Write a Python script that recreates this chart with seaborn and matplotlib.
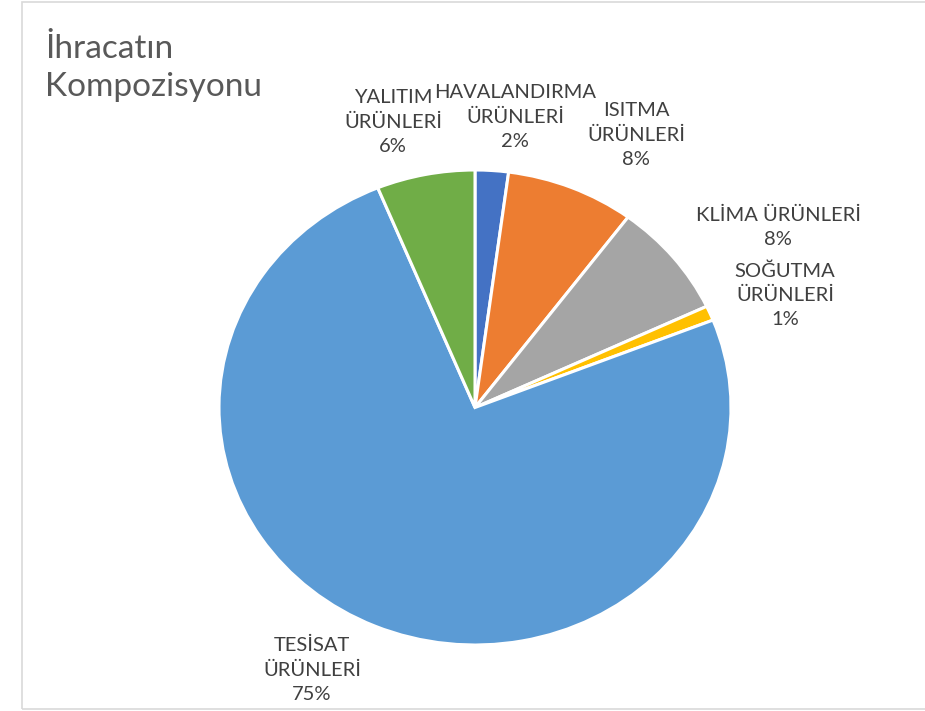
import matplotlib
matplotlib.use("Agg")
import matplotlib.pyplot as plt
import seaborn as sns
from matplotlib.patches import Rectangle

# slice data, clockwise from the top
categories = ["HAVALANDIRMA\nÜRÜNLERİ", "ISITMA\nÜRÜNLERİ", "KLİMA ÜRÜNLERİ",
              "SOĞUTMA\nÜRÜNLERİ", "TESİSAT\nÜRÜNLERİ", "YALITIM\nÜRÜNLERİ"]
shares = [2.1, 8.1, 7.8, 1.0, 74.8, 6.2]
pct_labels = ["2%", "8%", "8%", "1%", "75%", "6%"]
colors = ["#4472C4", "#ED7D31", "#A5A5A5", "#FFC000", "#5B9BD5", "#70AD47"]

# label centres in figure pixels (x from left, y from top)
label_pos = [(515, 117), (636, 135), (778, 227), (785, 295), (312, 670), (393, 122)]

W, H = 925, 711
sns.set_theme(style="white")
plt.rcParams["font.family"] = ["Lato", "DejaVu Sans"]

fig = plt.figure(figsize=(W / 100, H / 100), dpi=100)
fig.patch.set_facecolor("white")

# chart-area border (right edge falls outside the image)
fig.patches.append(Rectangle((22 / W, 2 / H), 1.2, (709 - 2) / H, transform=fig.transFigure,
                             fill=False, edgecolor="#D9D9D9", linewidth=1.2))

# pie axes: reference pie is slightly wider than tall
cx, cy, rx, ry = 475, 407.5, 256, 237.5
ax = fig.add_axes([(cx - rx) / W, (H - cy - ry) / H, 2 * rx / W, 2 * ry / H])
wedges, _ = ax.pie(shares, colors=colors, startangle=90, counterclock=False,
                   wedgeprops=dict(edgecolor="white", linewidth=2.2))
ax.set_aspect("auto")
ax.set_xlim(-1, 1)
ax.set_ylim(-1, 1)
for w in wedges:
    w.set_clip_on(False)
ax.axis("off")

for cat, pct, (px, py) in zip(categories, pct_labels, label_pos):
    fig.text(px / W, 1 - py / H, cat + "\n" + pct, ha="center", va="center",
             fontsize=14.5, color="#404040", linespacing=1.5)

fig.text(45 / W, 1 - 68 / H, "İhracatın\nKompozisyonu", ha="left", va="center",
         fontsize=24, color="#595959", linespacing=1.35)

fig.savefig("out.png", dpi=100, facecolor="white")
